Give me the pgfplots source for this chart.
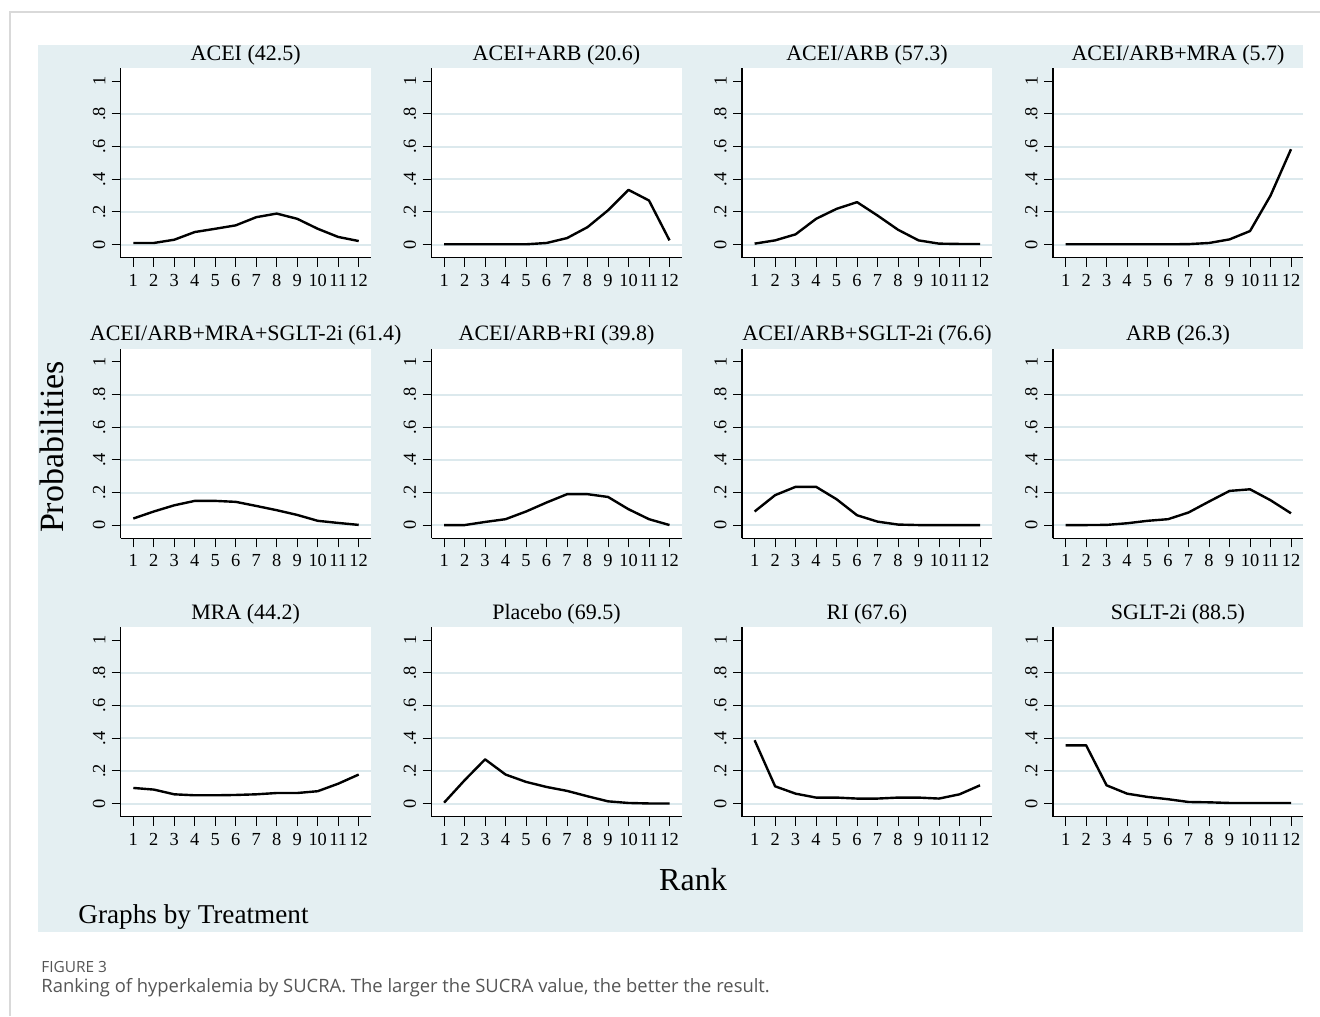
\documentclass[border=0pt]{standalone}
\usepackage{pgfplots}
\pgfplotsset{compat=1.18}
\usepackage{fontspec}
\setmainfont{Liberation Serif}
\newfontfamily\capfont{Open Sans}
\definecolor{stbg}{HTML}{E4EFF2}
\definecolor{stgrid}{HTML}{DCE9ED}
\definecolor{capgray}{HTML}{555555}
\definecolor{framegray}{HTML}{D9D9D9}

\pgfplotsset{
 curve/.style={black, line width=1.2pt, mark=none, line join=round},
 panel/.style={
  scale only axis, width=125pt, height=94.75pt,
  xmin=0.385, xmax=12.586, ymin=-0.08, ymax=1.08,
  axis lines*=left, axis line style={-, black, line width=0.7pt},
  axis background/.style={fill=white},
  xtick={1,2,3,4,5,6,7,8,9,10,11,12},
  xticklabels={1,2,3,4,5,6,7,8,9,10,11,12},
  ytick={0,0.2,0.4,0.6,0.8}, yticklabels={0,.2,.4,.6,.8},
  extra y ticks={1}, extra y tick labels={1}, extra y tick style={grid=none},
  ymajorgrids, major grid style={stgrid, line width=1pt},
  tick align=outside, major tick length=4.5pt, tick style={black, line width=0.5pt},
  xticklabel style={font=\fontsize{9.2}{10}\selectfont, inner sep=3.5pt},
  yticklabel style={font=\fontsize{9.2}{10}\selectfont, rotate=90, anchor=south, inner sep=3pt},
  title style={font=\fontsize{11}{12}\selectfont, at={(0.5,1)}, anchor=base, yshift=-2pt},
  anchor=south west,
 }
}

\begin{document}
\begin{tikzpicture}
\path[use as bounding box] (0,0) rectangle (660pt,508pt);
\draw[framegray, line width=0.7pt] (5pt,0) -- (5pt,502pt) -- (660pt,502pt);
\fill[stbg] (19pt,42pt) rectangle (651.5pt,485.5pt);

% Row 1
\begin{axis}[panel, at={(60.35pt,379.15pt)}, title={ACEI (42.5)}]
\addplot[curve] coordinates {(1,0.01)(2,0.01)(3,0.03)(4,0.077)(5,0.097)(6,0.118)(7,0.168)(8,0.19)(9,0.158)(10,0.097)(11,0.047)(12,0.022)};
\end{axis}
\begin{axis}[panel, at={(215.75pt,379.15pt)}, title={ACEI+ARB (20.6)}]
\addplot[curve] coordinates {(1,0.002)(2,0.002)(3,0.002)(4,0.002)(5,0.002)(6,0.01)(7,0.04)(8,0.107)(9,0.21)(10,0.335)(11,0.27)(12,0.026)};
\end{axis}
\begin{axis}[panel, at={(371pt,379.15pt)}, title={ACEI/ARB (57.3)}]
\addplot[curve] coordinates {(1,0.006)(2,0.026)(3,0.063)(4,0.158)(5,0.219)(6,0.26)(7,0.178)(8,0.091)(9,0.026)(10,0.006)(11,0.004)(12,0.004)};
\end{axis}
\begin{axis}[panel, at={(526.5pt,379.15pt)}, title={ACEI/ARB+MRA (5.7)}]
\addplot[curve] coordinates {(1,0.002)(2,0.002)(3,0.002)(4,0.002)(5,0.002)(6,0.002)(7,0.003)(8,0.01)(9,0.032)(10,0.083)(11,0.3)(12,0.584)};
\end{axis}

% Row 2
\begin{axis}[panel, at={(60.35pt,238.85pt)}, title={ACEI/ARB+MRA+SGLT-2i (61.4)}]
\addplot[curve] coordinates {(1,0.041)(2,0.084)(3,0.122)(4,0.149)(5,0.149)(6,0.143)(7,0.118)(8,0.092)(9,0.063)(10,0.027)(11,0.014)(12,0.002)};
\end{axis}
\begin{axis}[panel, at={(215.75pt,238.85pt)}, title={ACEI/ARB+RI (39.8)}]
\addplot[curve] coordinates {(1,0.001)(2,0.001)(3,0.02)(4,0.037)(5,0.084)(6,0.139)(7,0.19)(8,0.19)(9,0.173)(10,0.098)(11,0.037)(12,0.001)};
\end{axis}
\begin{axis}[panel, at={(371pt,238.85pt)}, title={ACEI/ARB+SGLT-2i (76.6)}]
\addplot[curve] coordinates {(1,0.084)(2,0.184)(3,0.235)(4,0.235)(5,0.159)(6,0.061)(7,0.022)(8,0.004)(9,0.001)(10,0.001)(11,0.001)(12,0.001)};
\end{axis}
\begin{axis}[panel, at={(526.5pt,238.85pt)}, title={ARB (26.3)}]
\addplot[curve] coordinates {(1,0.001)(2,0.001)(3,0.002)(4,0.012)(5,0.027)(6,0.037)(7,0.078)(8,0.145)(9,0.21)(10,0.22)(11,0.153)(12,0.073)};
\end{axis}

% Row 3
\begin{axis}[panel, at={(60.35pt,99.65pt)}, title={MRA (44.2)}]
\addplot[curve] coordinates {(1,0.096)(2,0.086)(3,0.057)(4,0.051)(5,0.051)(6,0.053)(7,0.057)(8,0.065)(9,0.065)(10,0.076)(11,0.122)(12,0.178)};
\end{axis}
\begin{axis}[panel, at={(215.75pt,99.65pt)}, title={Placebo (69.5)}]
\addplot[curve] coordinates {(1,0.006)(2,0.143)(3,0.271)(4,0.178)(5,0.133)(6,0.102)(7,0.078)(8,0.045)(9,0.014)(10,0.004)(11,0.001)(12,0.001)};
\end{axis}
\begin{axis}[panel, at={(371pt,99.65pt)}, title={RI (67.6)}]
\addplot[curve] coordinates {(1,0.388)(2,0.106)(3,0.061)(4,0.037)(5,0.037)(6,0.031)(7,0.031)(8,0.037)(9,0.037)(10,0.031)(11,0.057)(12,0.112)};
\end{axis}
\begin{axis}[panel, at={(526.5pt,99.65pt)}, title={SGLT-2i (88.5)}]
\addplot[curve] coordinates {(1,0.357)(2,0.357)(3,0.112)(4,0.061)(5,0.041)(6,0.027)(7,0.01)(8,0.008)(9,0.004)(10,0.004)(11,0.004)(12,0.004)};
\end{axis}

\node[rotate=90, font=\fontsize{17}{20}\selectfont] at (26pt,284.5pt) {Probabilities};
\node[font=\fontsize{16}{19}\selectfont] at (346.5pt,68pt) {Rank};
\node[anchor=west, font=\fontsize{13.6}{16}\selectfont, inner sep=0pt] at (39pt,49.5pt) {Graphs by Treatment};
\node[anchor=base west, inner sep=0pt, font=\capfont\fontsize{7.7}{8}\selectfont, text=capgray] at (20.5pt,22pt) {FIGURE 3};
\node[anchor=base west, inner sep=0pt, font=\capfont\fontsize{9.2}{10}\selectfont, text=capgray] at (20.5pt,12pt) {Ranking of hyperkalemia by SUCRA. The larger the SUCRA value, the better the result.};
\end{tikzpicture}
\end{document}
